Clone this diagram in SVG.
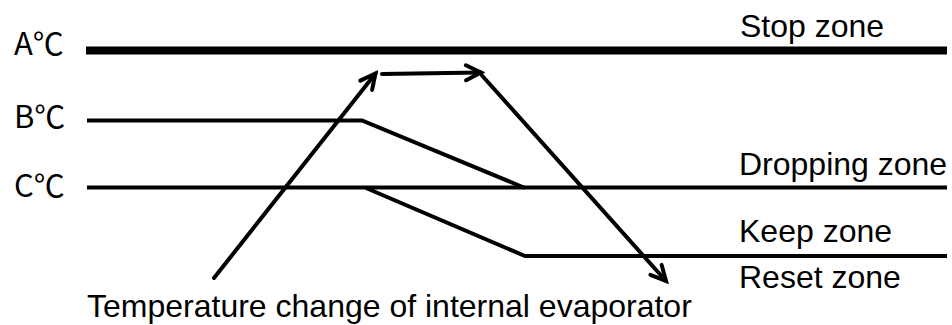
<svg xmlns="http://www.w3.org/2000/svg" width="952" height="325" viewBox="0 0 952 325">
  <style>
    .lbl { font-family: "Liberation Sans", Arial, sans-serif; font-size: 32px; fill: #000; }
    .deg { font-family: "Noto Sans CJK SC", "Noto Sans", sans-serif; font-size: 31px; fill: #000; }
    .lvl { stroke: #000; stroke-width: 4; fill: none; }
    .arr { stroke: #000; stroke-width: 4; fill: none; stroke-linecap: round; }
  </style>
  <defs>
    <marker id="open" markerUnits="userSpaceOnUse" markerWidth="24" markerHeight="24" viewBox="-20 -12 24 24" refX="0" refY="0" orient="auto">
      <path d="M-15,-7.5 L0,0 L-15,7.5" fill="none" stroke="#000" stroke-width="4" stroke-linecap="round" stroke-linejoin="miter"/>
    </marker>
  </defs>

  <g id="levels">
    <line x1="86" y1="50.5" x2="947" y2="50.5" stroke="#000" stroke-width="8"/>
    <polyline class="lvl" points="87,120.5 362,120.5 525,188"/>
    <line class="lvl" x1="87" y1="187.5" x2="947" y2="187.5"/>
    <polyline class="lvl" points="366,188 525,256 947,256"/>
  </g>

  <g id="labels-left">
    <text class="deg" x="14" y="55">A℃</text>
    <text class="deg" x="14" y="128">B℃</text>
    <text class="deg" x="14" y="197">C℃</text>
  </g>

  <g id="zone-labels">
    <text class="lbl" x="740" y="36.5">Stop zone</text>
    <text class="lbl" x="739" y="175">Dropping zone</text>
    <text class="lbl" x="739" y="241.5">Keep zone</text>
    <text class="lbl" x="739" y="288">Reset zone</text>
    <text class="lbl" x="87" y="316.5">Temperature change of internal evaporator</text>
  </g>

  <g id="connectors">
    <line class="arr" x1="214" y1="278" x2="375.5" y2="73.5" marker-end="url(#open)"/>
    <line class="arr" x1="382" y1="74" x2="481" y2="72.5" marker-end="url(#open)"/>
    <line class="arr" x1="482" y1="75.5" x2="666" y2="281" marker-end="url(#open)"/>
  </g>
</svg>
